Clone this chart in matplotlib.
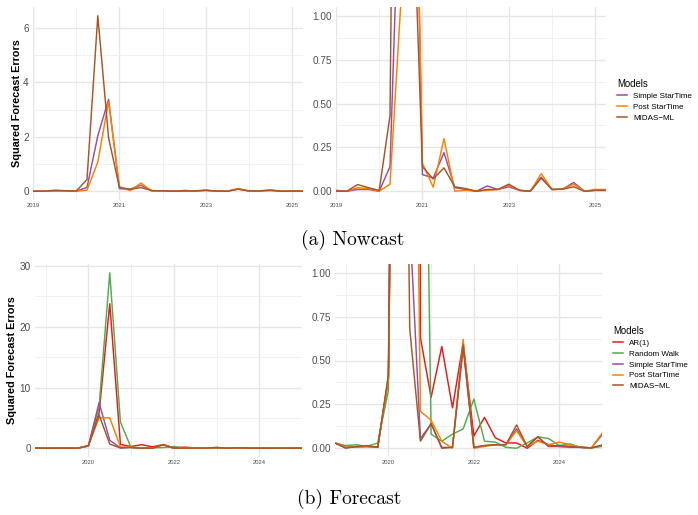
"""
squared forecast errors: nowcast and forecast panels
"""
import numpy as np
import pandas as pd
import matplotlib
matplotlib.use('Agg')
import matplotlib.pyplot as plt
from matplotlib.lines import Line2D

plt.rcParams['font.family'] = ['Liberation Sans', 'DejaVu Sans']

# nowcast: 2019Q1 - 2025Q2
now_quarters = pd.period_range('2019Q1', '2025Q2', freq='Q')
now_simple = [0.005, 0.0, 0.01, 0.01, 0.0, 0.14, 2.04, 3.38, 0.095, 0.075, 0.22, 0.02, 0.01,
              0.0, 0.03, 0.01, 0.025, 0.005, 0.0, 0.08, 0.01, 0.012, 0.05, 0.0, 0.005, 0.005]
now_post = [0.0, 0.0, 0.02, 0.015, 0.0, 0.04, 1.07, 3.30, 0.16, 0.023, 0.30, 0.0, 0.005,
            0.0, 0.005, 0.01, 0.035, 0.005, 0.0, 0.10, 0.01, 0.012, 0.04, 0.0, 0.01, 0.01]
now_midas = [0.0, 0.0, 0.038, 0.02, 0.005, 0.43, 6.45, 1.96, 0.14, 0.07, 0.133, 0.025, 0.015,
             0.0, 0.01, 0.01, 0.04, 0.005, 0.0, 0.075, 0.01, 0.012, 0.025, 0.0, 0.005, 0.005]

# forecast: 2018Q4 - 2025Q1
fc_quarters = pd.period_range('2018Q4', '2025Q1', freq='Q')
fc_ar = [0.03, 0.005, 0.008, 0.01, 0.005, 0.40, 5.8, 23.8, 0.63, 0.29, 0.58, 0.23, 0.60,
         0.07, 0.176, 0.06, 0.03, 0.03, 0.0, 0.045, 0.02, 0.01, 0.01, 0.005, 0.002, 0.015]
fc_rw = [0.03, 0.015, 0.02, 0.01, 0.03, 0.33, 6.8, 28.9, 4.3, 0.08, 0.04, 0.08, 0.11,
         0.28, 0.04, 0.035, 0.005, 0.0, 0.03, 0.065, 0.055, 0.015, 0.025, 0.005, 0.002, 0.01]
fc_simple = [0.03, 0.005, 0.008, 0.01, 0.005, 0.40, 7.5, 1.3, 0.055, 0.14, 0.005, 0.005, 0.57,
             0.005, 0.015, 0.02, 0.02, 0.11, 0.01, 0.065, 0.01, 0.01, 0.005, 0.005, 0.002, 0.075]
fc_post = [0.03, 0.005, 0.008, 0.01, 0.005, 0.40, 5.0, 5.0, 0.21, 0.16, 0.04, 0.0, 0.62,
           0.0, 0.01, 0.02, 0.02, 0.10, 0.01, 0.04, 0.02, 0.035, 0.02, 0.005, 0.002, 0.085]
fc_midas = [0.03, 0.0, 0.01, 0.015, 0.005, 0.42, 5.5, 0.68, 0.04, 0.14, 0.0, 0.005, 0.59,
            0.005, 0.015, 0.02, 0.02, 0.133, 0.01, 0.065, 0.01, 0.015, 0.01, 0.005, 0.002, 0.018]

colors = {'AR(1)': '#E41A1C', 'Random Walk': '#4DAF4A', 'Simple StarTime': '#984EA3',
          'Post StarTime': '#FF7F00', 'MIDAS\u2212ML': '#A65628'}

W, H = 698, 515


def to_year(q):
    return q.year + (q.quarter - 1) / 4


def px_axes(fig, x0, y0, x1, y1):
    # pixel box (left, top, right, bottom) -> figure axes
    return fig.add_axes([x0 / W, 1 - y1 / H, (x1 - x0) / W, (y1 - y0) / H])


def style(ax, xlim, xmaj, xmin, ylim, ymaj, ymin, yfmt):
    ax.set_xlim(xlim)
    ax.set_ylim(ylim)
    ax.set_xticks(xmaj)
    ax.set_xticks(xmin, minor=True)
    ax.set_yticks(ymaj)
    ax.set_yticks(ymin, minor=True)
    ax.set_xticklabels([str(v) for v in xmaj])
    ax.set_yticklabels([yfmt % v for v in ymaj])
    for s in ax.spines.values():
        s.set_visible(False)
    ax.tick_params(which='both', length=0)
    ax.tick_params(axis='x', labelsize=4.2, colors='#4D4D4D', pad=2.5)
    ax.tick_params(axis='y', labelsize=7.2, colors='#4D4D4D', pad=3)
    ax.grid(which='major', color='#E6E6E6', linewidth=1.0)
    ax.grid(which='minor', color='#EDEDED', linewidth=0.55)
    ax.set_axisbelow(True)


fig = plt.figure(figsize=(W / 100, H / 100), dpi=100)

# ---- (a) nowcast
tn = [to_year(q) for q in now_quarters]
now_series = [('Simple StarTime', now_simple), ('Post StarTime', now_post),
              ('MIDAS\u2212ML', now_midas)]

ax1 = px_axes(fig, 33, 7, 303, 200)
ax2 = px_axes(fig, 336, 7, 606, 200)
for ax in (ax1, ax2):
    for name, vals in now_series:
        ax.plot(tn, vals, color=colors[name], linewidth=1.05)
style(ax1, (2019, 2025.25), [2019, 2021, 2023, 2025], [2020, 2022, 2024],
      (-0.3225, 6.7725), [0, 2, 4, 6], [1, 3, 5], '%d')
style(ax2, (2019, 2025.25), [2019, 2021, 2023, 2025], [2020, 2022, 2024],
      (-0.05, 1.05), [0, 0.25, 0.5, 0.75, 1.0], [0.125, 0.375, 0.625, 0.875], '%.2f')
ax1.set_ylabel('Squared Forecast Errors', fontsize=7.8, fontweight='bold', labelpad=1)

h = [Line2D([], [], color=colors[n], linewidth=1.1) for n, _ in now_series]
fig.legend(h, [n for n, _ in now_series], loc='upper left',
           bbox_to_anchor=(617 / W, 1 - 79 / H), frameon=False, borderpad=0,
           borderaxespad=0, title='Models', title_fontsize=6.9, fontsize=5.8,
           alignment='left', handlelength=1.2, handletextpad=0.8, labelspacing=0.4)

fig.text(353 / W, 1 - 240 / H, '(a) Nowcast', ha='center', va='center',
         fontfamily='cmr10', fontsize=14)

# ---- (b) forecast
tf = [to_year(q) for q in fc_quarters]
fc_series = [('AR(1)', fc_ar), ('Random Walk', fc_rw), ('Simple StarTime', fc_simple),
             ('Post StarTime', fc_post), ('MIDAS\u2212ML', fc_midas)]

ax3 = px_axes(fig, 35, 264, 302, 457)
ax4 = px_axes(fig, 335, 264, 602, 457)
for ax in (ax3, ax4):
    for name, vals in fc_series:
        ax.plot(tf, vals, color=colors[name], linewidth=1.05)
style(ax3, (2018.75, 2025), [2020, 2022, 2024], [2019, 2021, 2023, 2025],
      (-1.445, 30.345), [0, 10, 20, 30], [5, 15, 25], '%d')
style(ax4, (2018.75, 2025), [2020, 2022, 2024], [2019, 2021, 2023, 2025],
      (-0.05, 1.05), [0, 0.25, 0.5, 0.75, 1.0], [0.125, 0.375, 0.625, 0.875], '%.2f')
ax3.set_ylabel('Squared Forecast Errors', fontsize=7.8, fontweight='bold', labelpad=2)

h = [Line2D([], [], color=colors[n], linewidth=1.1) for n, _ in fc_series]
fig.legend(h, [n for n, _ in fc_series], loc='upper left',
           bbox_to_anchor=(613 / W, 1 - 326 / H), frameon=False, borderpad=0,
           borderaxespad=0, title='Models', title_fontsize=6.9, fontsize=5.8,
           alignment='left', handlelength=1.2, handletextpad=0.8, labelspacing=0.4)

fig.text(349 / W, 1 - 499 / H, '(b) Forecast', ha='center', va='center',
         fontfamily='cmr10', fontsize=14)

fig.savefig('out.png', dpi=100)
